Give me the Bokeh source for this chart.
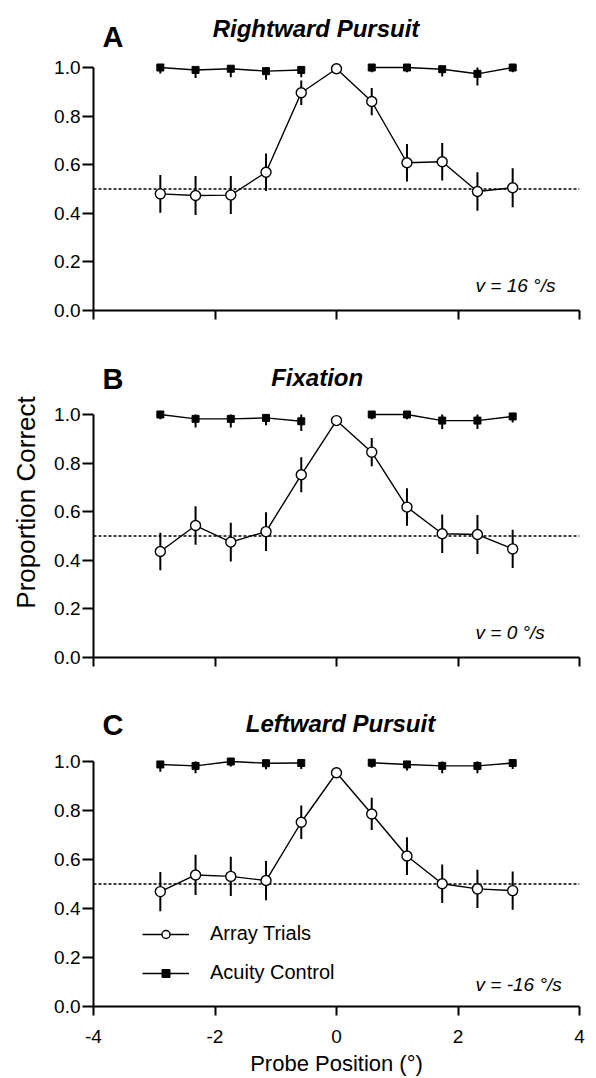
import numpy as np
from bokeh.plotting import figure
from bokeh.models import Range1d, Span, Label, Legend, LegendItem, FixedTicker, PrintfTickFormatter
from bokeh.layouts import column
from bokeh.embed import file_html
from bokeh.resources import INLINE

FONT = "Liberation Sans"

# probe positions (deg)
positions = [-2.9, -2.32, -1.74, -1.16, -0.58, 0.0, 0.58, 1.16, 1.74, 2.32, 2.9]
acuity_positions = [-2.9, -2.32, -1.74, -1.16, -0.58, 0.58, 1.16, 1.74, 2.32, 2.9]

# Panel A: rightward pursuit
array_A = [0.48, 0.473, 0.475, 0.569, 0.896, 0.995, 0.86, 0.608, 0.612, 0.49, 0.505]
array_A_err = [0.078, 0.08, 0.078, 0.077, 0.05, 0.012, 0.056, 0.077, 0.077, 0.079, 0.08]
acuity_A = [1.0, 0.99, 0.995, 0.985, 0.99, 1.0, 1.0, 0.993, 0.974, 1.0]
acuity_A_err = [0.025, 0.033, 0.035, 0.035, 0.03, 0.02, 0.02, 0.03, 0.048, 0.02]

# Panel B: fixation
array_B = [0.436, 0.543, 0.475, 0.518, 0.752, 0.975, 0.845, 0.619, 0.509, 0.506, 0.447]
array_B_err = [0.077, 0.079, 0.08, 0.08, 0.072, 0.015, 0.058, 0.077, 0.079, 0.08, 0.079]
acuity_B = [1.0, 0.982, 0.982, 0.986, 0.972, 1.0, 1.0, 0.975, 0.975, 0.992]
acuity_B_err = [0.02, 0.035, 0.035, 0.03, 0.04, 0.02, 0.02, 0.035, 0.035, 0.025]

# Panel C: leftward pursuit
array_C = [0.469, 0.537, 0.531, 0.514, 0.752, 0.954, 0.786, 0.614, 0.501, 0.48, 0.473]
array_C_err = [0.08, 0.082, 0.08, 0.08, 0.068, 0.02, 0.066, 0.077, 0.079, 0.078, 0.078]
acuity_C = [0.988, 0.982, 1.0, 0.993, 0.994, 0.995, 0.988, 0.982, 0.982, 0.994]
acuity_C_err = [0.03, 0.03, 0.02, 0.025, 0.025, 0.02, 0.025, 0.03, 0.03, 0.025]

x_ticks = [-4, -2, 0, 2, 4]
y_ticks = [0.0, 0.2, 0.4, 0.6, 0.8, 1.0]
chance_level = 0.5


def make_panel(letter, title, letter_pos, title_pos, vel_text, vel_pos,
               arr, arr_err, acu, acu_err, height, y_end, bottom,
               xlabels=False, ylabel=None, legend=False):
    p = figure(width=592, height=height, x_range=Range1d(-4, 4), y_range=Range1d(0, y_end),
               output_backend="svg", toolbar_location=None, title=None,
               min_border_left=93, min_border_right=13, min_border_top=0, min_border_bottom=bottom)
    p.grid.visible = False
    p.outline_line_color = None
    p.background_fill_color = "white"

    for ax in (p.xaxis[0], p.yaxis[0]):
        ax.axis_line_width = 2
        ax.axis_line_color = "black"
        ax.major_tick_line_width = 2
        ax.major_tick_line_color = "black"
        ax.major_tick_in = 0
        ax.minor_tick_line_color = None
        ax.major_label_text_font = FONT
        ax.major_label_text_font_size = "19px"
        ax.major_label_text_color = "black"
        ax.axis_label_text_font = FONT
        ax.axis_label_text_font_style = "normal"
        ax.axis_label_text_color = "black"

    xa = p.xaxis[0]
    xa.bounds = (-4, 4)
    xa.ticker = FixedTicker(ticks=x_ticks)
    xa.formatter = PrintfTickFormatter(format="%d")
    xa.major_tick_out = 9
    xa.major_label_standoff = 14
    if not xlabels:
        xa.major_label_text_color = None
    else:
        xa.axis_label = "Probe Position (°)"
        xa.axis_label_text_font_size = "22px"
        xa.axis_label_standoff = 5

    ya = p.yaxis[0]
    ya.bounds = (0, 1)
    ya.ticker = FixedTicker(ticks=y_ticks)
    ya.formatter = PrintfTickFormatter(format="%.1f")
    ya.major_tick_out = 11
    ya.major_label_standoff = 2
    if ylabel:
        ya.axis_label = ylabel
        ya.axis_label_text_font_size = "26px"
        ya.axis_label_standoff = 10

    p.add_layout(Span(location=chance_level, dimension="width", line_color="black",
                      line_width=1.3, line_dash="3 2", level="underlay"))

    # acuity control
    ax_arr = np.array(acuity_positions)
    acu_a = np.array(acu)
    acu_e = np.array(acu_err)
    p.segment(x0=ax_arr, y0=acu_a - acu_e, x1=ax_arr, y1=np.minimum(1.0, acu_a + acu_e),
              line_color="black", line_width=2)
    lx = np.concatenate([ax_arr[ax_arr < 0], [np.nan], ax_arr[ax_arr > 0]])
    ly = np.concatenate([acu_a[ax_arr < 0], [np.nan], acu_a[ax_arr > 0]])
    acu_line = p.line(lx, ly, line_color="black", line_width=1.4)
    acu_sc = p.scatter(ax_arr, acu_a, marker="square", size=7, fill_color="black", line_color="black")

    # array trials
    px = np.array(positions)
    ar = np.array(arr)
    ae = np.array(arr_err)
    p.segment(x0=px, y0=ar - ae, x1=px, y1=ar + ae, line_color="black", line_width=2)
    arr_line = p.line(px, ar, line_color="black", line_width=1.4)
    arr_sc = p.scatter(px, ar, marker="circle", size=10, fill_color="white",
                       line_color="black", line_width=1.4)

    p.add_layout(Label(x=letter_pos[0], y=letter_pos[1], text=letter, text_font=FONT,
                       text_font_size="29px", text_font_style="bold", text_align="center",
                       text_baseline="alphabetic", text_color="black"))
    p.add_layout(Label(x=title_pos[0], y=title_pos[1], text=title, text_font=FONT,
                       text_font_size="24px", text_font_style="bold italic", text_align="center",
                       text_baseline="alphabetic", text_color="black"))
    p.add_layout(Label(x=vel_pos[0], y=vel_pos[1], text=vel_text, text_font=FONT,
                       text_font_size="19px", text_font_style="italic", text_align="left",
                       text_baseline="alphabetic", text_color="black"))

    if legend:
        lg = Legend(items=[LegendItem(label="Array Trials", renderers=[arr_line, arr_sc]),
                           LegendItem(label="Acuity Control", renderers=[acu_line, acu_sc])],
                    location=(49, 22), glyph_width=47, glyph_height=20, label_standoff=21,
                    spacing=16, padding=0, margin=0, border_line_color=None,
                    background_fill_alpha=0, label_text_font=FONT, label_text_font_size="20px",
                    label_text_color="black")
        p.add_layout(lg)
    return p


pA = make_panel("A", "Rightward Pursuit", (-3.68, 1.125), (-0.337, 1.159), "v = 16 °/s", (2.288, 0.103),
                array_A, array_A_err, acuity_A, acuity_A_err, 347, 310 / 243, 37)
pB = make_panel("B", "Fixation", (-3.68, 1.147), (-0.318, 1.153), "v = 0 °/s", (2.288, 0.104),
                array_B, array_B_err, acuity_B, acuity_B_err, 347, 310 / 243, 37,
                ylabel="Proportion Correct")
pC = make_panel("C", "Leftward Pursuit", (-3.68, 1.147), (0.066, 1.154), "v = -16 °/s", (2.288, 0.09),
                array_C, array_C_err, acuity_C, acuity_C_err, 384, 312 / 245, 72,
                xlabels=True, legend=True)

layout = column(pA, pB, pC, spacing=0)
open("out.html", "w").write(file_html(layout, INLINE))
